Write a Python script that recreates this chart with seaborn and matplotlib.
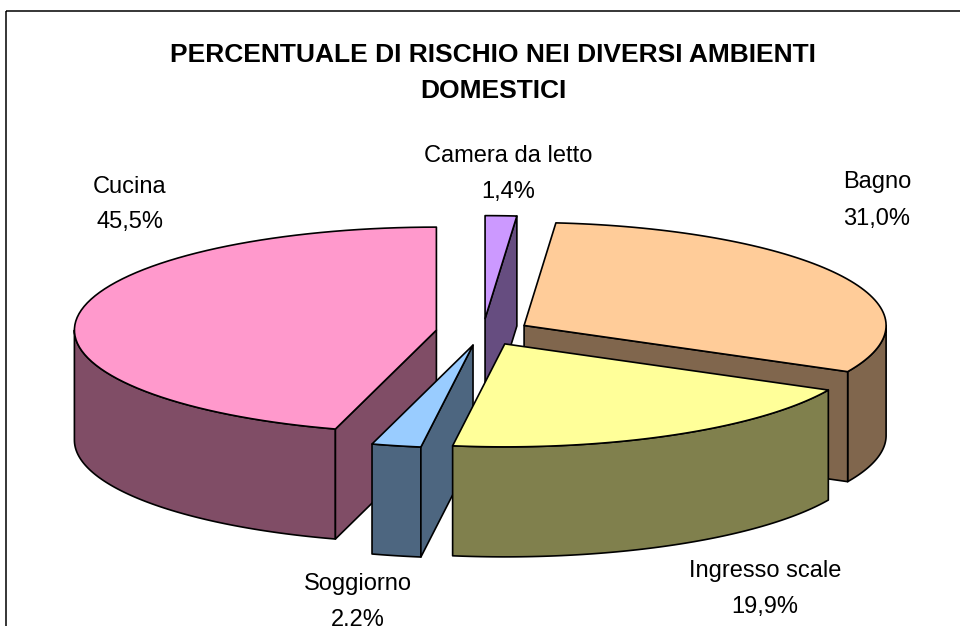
import numpy as np
import matplotlib
matplotlib.use("Agg")
import matplotlib.pyplot as plt
from matplotlib.patches import Polygon, Rectangle
import seaborn as sns

# data, clockwise from 12 o'clock (Excel pie order)
rooms = ["Camera da letto", "Bagno", "Ingresso scale", "Soggiorno", "Cucina"]
percent = [1.4, 31.0, 19.9, 2.2, 45.5]
pct_labels = ["1,4%", "31,0%", "19,9%", "2.2%", "45,5%"]
top_colors = ["#CC99FF", "#FFCC99", "#FFFF99", "#99CCFF", "#FF99CC"]

title_lines = ["PERCENTUALE DI RISCHIO NEI DIVERSI AMBIENTI", "DOMESTICI"]

# layout of the 3D pie (pixel units, y pointing down)
cx, cy = 483, 332
rx, ry = 362, 103
depth = 110
explode = 0.13
draw_order = [0, 1, 4, 3, 2]  # back to front
label_pos = [(508, 162, 198), (877, 188, 225), (765, 577, 613),
             (358, 590, 626), (130, 193, 228)]

sns.set_style("white")
plt.rcParams["font.family"] = ["Liberation Sans", "DejaVu Sans"]
plt.rcParams["text.color"] = "black"

palette = sns.color_palette(top_colors)
side_palette = [tuple(c * 0.5 for c in col) for col in palette]

fig = plt.figure(figsize=(9.6, 6.26), dpi=100)
ax = fig.add_axes([0, 0, 1, 1])
ax.set_xlim(0, 960)
ax.set_ylim(626, 0)
ax.axis("off")

# chart frame (right and bottom lie outside the picture)
ax.add_patch(Rectangle((6, 11), 1200, 1000, fill=False, ec="black", lw=1.1))


def rim(ox, oy, th):
    t = np.radians(th)
    return ox + rx * np.sin(t), oy - ry * np.cos(t)


def arc(ox, oy, a, b, n=80):
    th = np.linspace(a, b, n)
    xs, ys = rim(ox, oy, th)
    return np.column_stack([xs, ys])


edges = np.concatenate([[0], np.cumsum(percent)]) / sum(percent) * 360
style = dict(ec="black", lw=1.2, joinstyle="round")

for i in draw_order:
    a, b = edges[i], edges[i + 1]
    mid = np.radians((a + b) / 2)
    ox = cx + explode * rx * np.sin(mid)
    oy = cy - explode * ry * np.cos(mid)
    down = np.array([0, depth])

    # outer curved wall, front half only
    lo, hi = max(a, 90), min(b, 270)
    if lo < hi:
        top = arc(ox, oy, lo, hi)
        ax.add_patch(Polygon(np.vstack([top, top[::-1] + down]),
                             fc=side_palette[i], **style))

    # radial walls facing the viewer
    c = np.array([ox, oy])
    if np.sin(np.radians(a)) < -1e-6:
        p = np.array(rim(ox, oy, a))
        ax.add_patch(Polygon([c, p, p + down, c + down], fc=side_palette[i], **style))
    if np.sin(np.radians(b)) > 1e-6:
        p = np.array(rim(ox, oy, b))
        ax.add_patch(Polygon([c, p, p + down, c + down], fc=side_palette[i], **style))

    # top face
    ax.add_patch(Polygon(np.vstack([c, arc(ox, oy, a, b), c]),
                         fc=palette[i], **style))

# data labels
for name, pct, (lx, y1, y2) in zip(rooms, pct_labels, label_pos):
    ax.text(lx, y1, name, ha="center", va="baseline", fontsize=17)
    ax.text(lx, y2, pct, ha="center", va="baseline", fontsize=17)

ax.text(493, 62, title_lines[0], ha="center", va="baseline",
        fontsize=19, fontweight="bold")
ax.text(493, 98, title_lines[1], ha="center", va="baseline",
        fontsize=19, fontweight="bold")

fig.savefig("out.png", dpi=100)
